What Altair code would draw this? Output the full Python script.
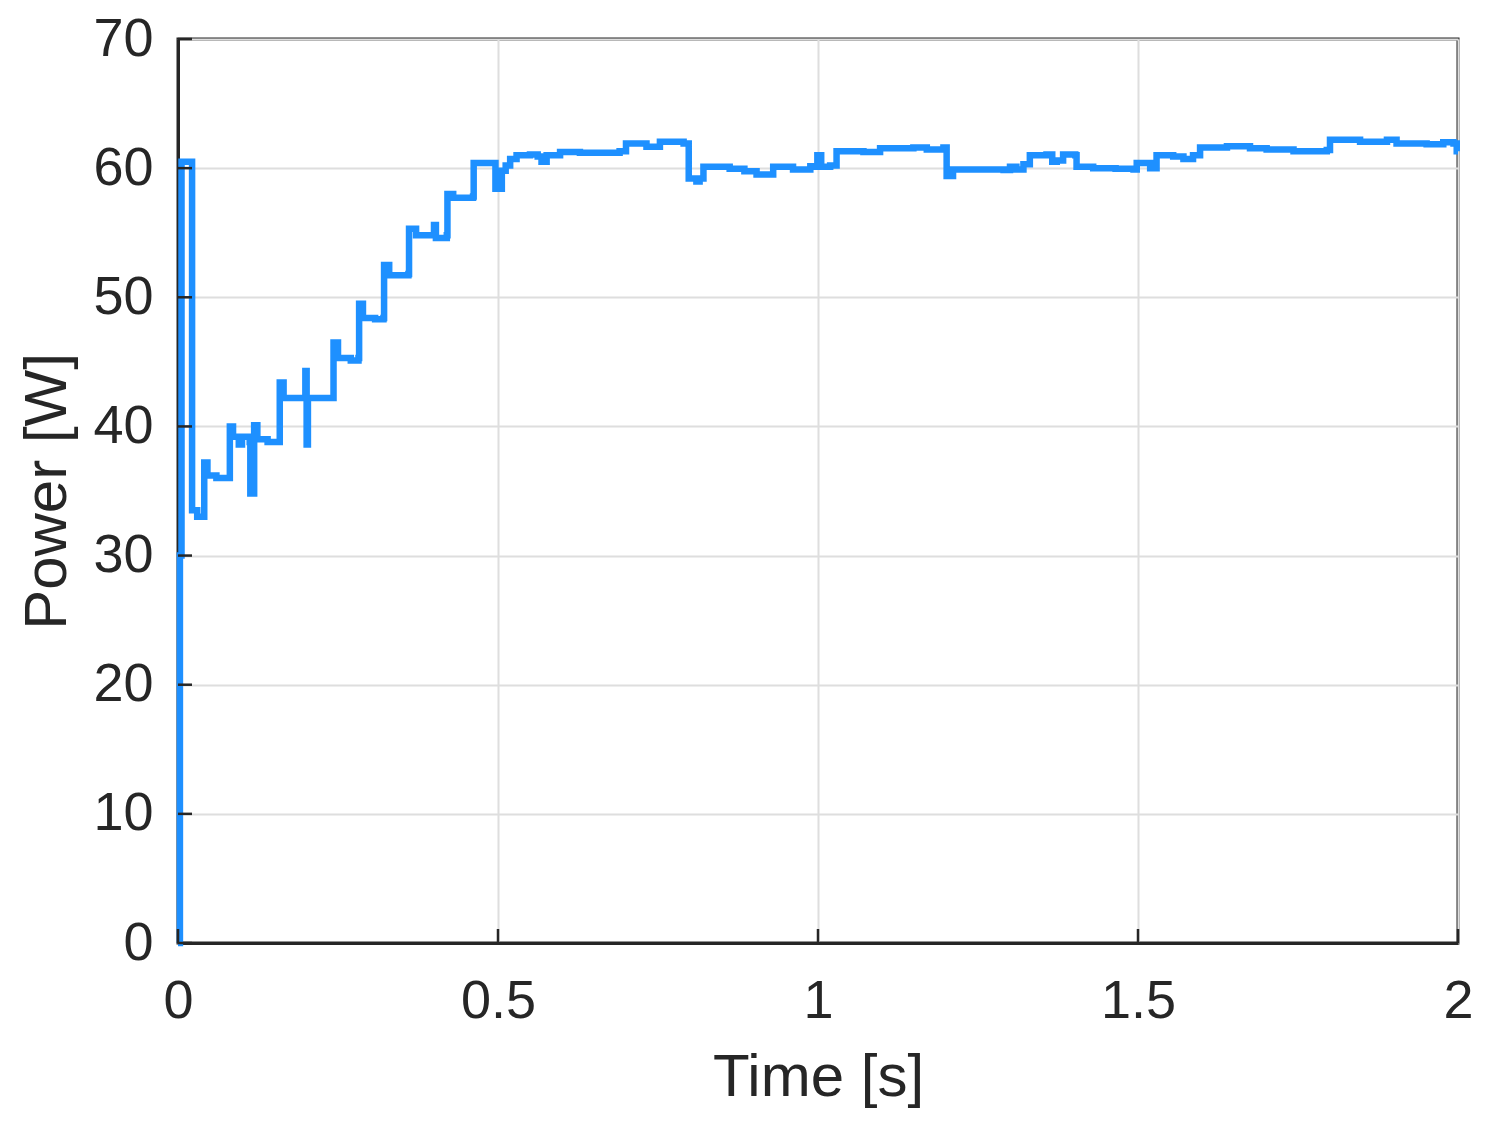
import altair as alt
import pandas as pd

# Time [s] and Power [W]
time_s = [
    0.000, 0.003, 0.0055, 0.016, 0.022, 0.030, 0.040, 0.041, 0.046, 0.060, 0.080,
    0.081, 0.086, 0.095, 0.100, 0.112, 0.113, 0.118, 0.119, 0.124, 0.140, 0.158,
    0.159, 0.165, 0.198, 0.199, 0.201, 0.203, 0.242, 0.243, 0.250, 0.270, 0.282,
    0.283, 0.289, 0.308, 0.321, 0.322, 0.330, 0.360, 0.361, 0.372, 0.398, 0.400,
    0.403, 0.420, 0.421, 0.430, 0.461, 0.462, 0.470, 0.495, 0.496, 0.502, 0.506,
    0.512, 0.519, 0.529, 0.550, 0.562, 0.568, 0.576, 0.597, 0.628, 0.665, 0.690,
    0.700, 0.717, 0.732, 0.753, 0.790, 0.797, 0.798, 0.810, 0.815, 0.821, 0.862,
    0.885, 0.904, 0.930, 0.961, 0.988, 0.998, 0.999, 1.005, 1.019, 1.029, 1.071,
    1.097, 1.149, 1.170, 1.196, 1.200, 1.201, 1.211, 1.253, 1.290, 1.300, 1.310,
    1.321, 1.331, 1.357, 1.366, 1.373, 1.383, 1.402, 1.404, 1.430, 1.465, 1.493,
    1.498, 1.519, 1.529, 1.555, 1.571, 1.586, 1.597, 1.639, 1.675, 1.701, 1.743,
    1.795, 1.800, 1.847, 1.889, 1.904, 1.951, 1.977, 1.993, 1.998, 2.000,
]
power_w = [
    0.0, 30.0, 60.5, 60.5, 33.5, 33.0, 33.0, 37.2, 36.2, 36.0, 36.0,
    40.0, 39.2, 38.6, 39.2, 38.8, 34.8, 34.8, 40.1, 39.0, 38.8, 38.8,
    43.4, 42.2, 42.2, 44.3, 38.6, 42.2, 42.2, 46.5, 45.3, 45.1, 45.3,
    49.5, 48.4, 48.3, 48.4, 52.5, 51.7, 51.8, 55.3, 54.8, 54.8, 55.6,
    54.6, 54.8, 58.0, 57.7, 57.8, 60.4, 60.4, 60.4, 58.4, 58.4, 59.8,
    60.2, 60.7, 61.0, 61.05, 60.9, 60.5, 61.0, 61.25, 61.2, 61.2, 61.3,
    61.9, 61.9, 61.65, 62.05, 61.9, 61.9, 59.2, 58.96, 59.2, 60.1, 59.95,
    59.75, 59.5, 60.1, 59.9, 60.15, 60.1, 61.0, 60.1, 60.2, 61.3, 61.25,
    61.55, 61.6, 61.45, 61.6, 61.6, 59.4, 59.9, 59.9, 59.85, 60.1, 59.9,
    60.3, 61.0, 61.05, 60.5, 60.6, 61.05, 61.0, 60.1, 60.0, 59.95, 59.9,
    60.4, 60.0, 61.0, 60.9, 60.7, 61.0, 61.6, 61.7, 61.55, 61.45, 61.3,
    61.4, 62.2, 62.05, 62.2, 61.9, 61.85, 62.0, 61.9, 61.3, 61.3,
]

x_ticks = [0, 0.5, 1, 1.5, 2]
y_ticks = [0, 10, 20, 30, 40, 50, 60, 70]

df = pd.DataFrame({"t": time_s, "p": power_w, "order": list(range(len(time_s)))})
df_xt = pd.DataFrame({"v": x_ticks})
df_yt = pd.DataFrame({"v": y_ticks})

FONT = "Liberation Sans"
DARK = "#262626"

x_scale = alt.Scale(domain=[0, 2], nice=False, zero=False)
y_scale = alt.Scale(domain=[0, 70], nice=False)

x_axis = alt.Axis(
    values=x_ticks, format="~g", title="Time [s]", grid=True, ticks=False,
    labelFlush=False, labelOverlap=False, labelPadding=31, labelBaseline="top",
    titleX=640, titleY=152, titleBaseline="alphabetic", titleAlign="center",
)
y_axis = alt.Axis(
    values=y_ticks, format="~g", title="Power [W]", grid=True, ticks=False,
    labelFlush=False, labelOverlap=False, labelPadding=25,
    titleX=-113, titleY=452, titleAngle=-90, titleBaseline="alphabetic",
    titleAlign="center",
)

line = alt.Chart(df).mark_line(
    color="#1E90FF", strokeWidth=6.5, interpolate="step-after", strokeJoin="miter"
).encode(
    x=alt.X("t:Q", scale=x_scale, axis=x_axis),
    y=alt.Y("p:Q", scale=y_scale, axis=y_axis),
    order="order:Q",
)

xticks = alt.Chart(df_xt).mark_rule(color=DARK, strokeWidth=2.5).encode(
    x=alt.X("v:Q", scale=x_scale),
    y=alt.value(904),
    y2=alt.value(890),
)
yticks = alt.Chart(df_yt).mark_rule(color=DARK, strokeWidth=2.5).encode(
    y=alt.Y("v:Q", scale=y_scale),
    x=alt.value(0),
    x2=alt.value(14),
)

chart = alt.layer(line, xticks, yticks).properties(
    width=1280,
    height=904,
    autosize="none",
    padding={"left": 170, "top": 31, "right": 20, "bottom": 180},
).configure_view(
    stroke=DARK, strokeWidth=3
).configure_axis(
    domainColor=DARK, domainWidth=3,
    gridColor="#dedede", gridWidth=2,
    labelFont=FONT, labelFontSize=54, labelColor=DARK,
    titleFont=FONT, titleFontSize=60, titleColor=DARK, titleFontWeight="normal",
)

chart.save("out.html", embed_options={"renderer": "svg", "actions": False})
